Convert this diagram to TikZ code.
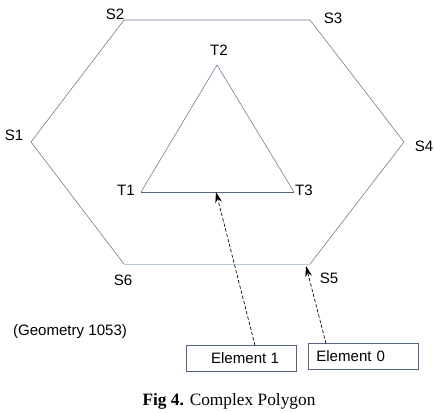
\documentclass[tikz,border=0pt]{standalone}
\usepackage{fontspec}
\setmainfont{Liberation Serif}
\setsansfont{Liberation Sans}
\usepackage{tikz}
\definecolor{edge}{RGB}{110, 125, 150}
\definecolor{lightedge}{RGB}{185, 200, 215}
\definecolor{boxline}{RGB}{85, 100, 130}
\usetikzlibrary{arrows.meta, positioning, calc}

\begin{document}
\begin{tikzpicture}[x=0.75pt, y=-0.75pt,
    lbl/.style={font=\sffamily\fontsize{11.3}{13}\selectfont, inner sep=0pt},
    elem/.style={draw=boxline, line width=0.6pt, minimum width=82.5pt, minimum height=19pt,
                 font=\sffamily\fontsize{11.3}{13}\selectfont},
    outline/.style={draw=edge, line width=0.45pt},
    pointer/.style={-{Stealth[length=8pt, width=5pt]}, dash pattern=on 2.5pt off 1.5pt, line width=0.5pt, black}
]
    \useasboundingbox (0,0) rectangle (434,412);

    % Hexagon corners
    \coordinate (s1) at (31,142);
    \coordinate (s2) at (124,20);
    \coordinate (s3) at (310,20);
    \coordinate (s4) at (404,142);
    \coordinate (s5) at (310,264);
    \coordinate (s6) at (124,264);

    \draw[outline] (s6) -- (s1) -- (s2) -- (s3) -- (s4) -- (s5);
    \draw[draw=lightedge, line width=0.45pt] (s5) -- (s6);

    \node[lbl] (ls1) at (14,135) {S1};
    \node[lbl] (ls2) at (115,14) {S2};
    \node[lbl] (ls3) at (333,18) {S3};
    \node[lbl] (ls4) at (424,146) {S4};
    \node[lbl] (ls5) at (329,278) {S5};
    \node[lbl] (ls6) at (123,280) {S6};

    % Triangle
    \coordinate (t1) at (141,192);
    \coordinate (t2) at (217,65);
    \coordinate (t3) at (294,192);
    \coordinate (tb) at (216,192);

    \draw[outline] (t1) -- (t2) -- (t3);
    \draw[draw=boxline, line width=0.6pt] (t3) -- (t1);

    \node[lbl] (lt1) at (126,190) {T1};
    \node[lbl] (lt2) at (219,50) {T2};
    \node[lbl] (lt3) at (304,190) {T3};

    % Elements
    \node[elem] (e1) at (241,358.5) {\hspace{6pt}Element 1};
    \node[elem, align=left, text width=70pt] (e0) at (363,356.5) {Element 0};

    \node[lbl] (geo) at (70,332) {(Geometry 1053)};

    % Arrows
    \draw[pointer] ($(e1.north)+(14,0)$) -- (tb);
    \draw[pointer] ($(e0.north)+(-37,0)$) -- ($(s5)+(-4,2)$);

    % Caption
    \node[font=\fontsize{13}{15}\selectfont, inner sep=0pt] (cap) at (229,401) {\textbf{Fig 4.} Complex Polygon};
\end{tikzpicture}
\end{document}
